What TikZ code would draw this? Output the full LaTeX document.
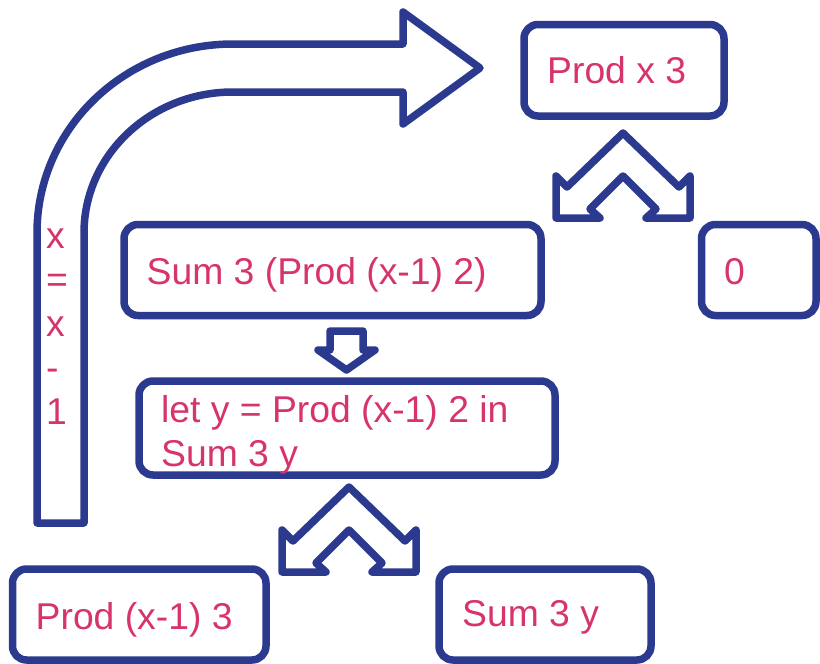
\documentclass[tikz,border=0pt]{standalone}
\usepackage{fontspec}
\setmainfont{Liberation Sans}
\definecolor{navy}{RGB}{43,58,143}
\definecolor{rose}{RGB}{214,52,106}
\begin{document}
\begin{tikzpicture}[x=1pt,y=-1pt,
  outline/.style={draw=navy, line width=7.5pt, line join=round},
  card/.style={outline, rounded corners=14pt, inner sep=0pt},
  label/.style={text=rose, font=\fontsize{37.3}{44}\selectfont, anchor=base west, inner sep=0pt},
  splitarrow/.pic={
    \draw[outline] (0,0) -- (-56,54) -- (-67,43) -- (-67,85) -- (-23,85) -- (-33,76)
      -- (0,43) -- (33,76) -- (23,85) -- (67,85) -- (67,43) -- (56,54) -- cycle;
  }
]
\useasboundingbox (0,0) rectangle (820,664);

% boxes
\node[card, minimum width=200pt, minimum height=91.5pt] (prodbox) at (624,70.25) {};
\node[card, minimum width=417pt, minimum height=91pt] (sumbox) at (332.5,270) {};
\node[card, minimum width=114.5pt, minimum height=91pt] (zerobox) at (758.75,270) {};
\node[card, minimum width=416pt, minimum height=94pt] (letbox) at (347,428) {};
\node[card, minimum width=253.5pt, minimum height=91pt] (prodtwobox) at (139.25,614.5) {};
\node[card, minimum width=212pt, minimum height=91pt] (sumybox) at (545,614.5) {};

% texts
\node[label] (prodtxt) at (547,83) {Prod x 3};
\node[label] (sumtxt) at (146.5,284) {Sum 3 (Prod (x-1) 2)};
\node[label] (zerotxt) at (724,284) {0};
\node[label] (letone) at (161,422) {let y = Prod (x-1) 2 in};
\node[label] (lettwo) at (161,466) {Sum 3 y};
\node[label] (prodtwotxt) at (35.5,629) {Prod (x-1) 3};
\node[label] (sumytxt) at (462,626) {Sum 3 y};

% bent arrow carrying x = x - 1
\draw[outline] (37,523) -- (37,233)
  .. controls (37,128.6) and (124.7,44) .. (233,44)
  -- (403,44) -- (403,12) -- (480,68) -- (403,124) -- (403,92) -- (233,92)
  .. controls (150.7,92) and (84,155.1) .. (84,233)
  -- (84,523) -- cycle;
\foreach \t [count=\i] in {x,=,x,-,1}
  \node[label] (step\i) at (46,{248+44*(\i-1)}) {\t};

% small down arrow
\draw[outline] (330,331) -- (363,331) -- (363,350) -- (375,350) -- (346.5,370)
  -- (318,350) -- (330,350) -- cycle;

% split arrows
\pic at (623,133) {splitarrow};
\pic at (349,487) {splitarrow};
\end{tikzpicture}
\end{document}
